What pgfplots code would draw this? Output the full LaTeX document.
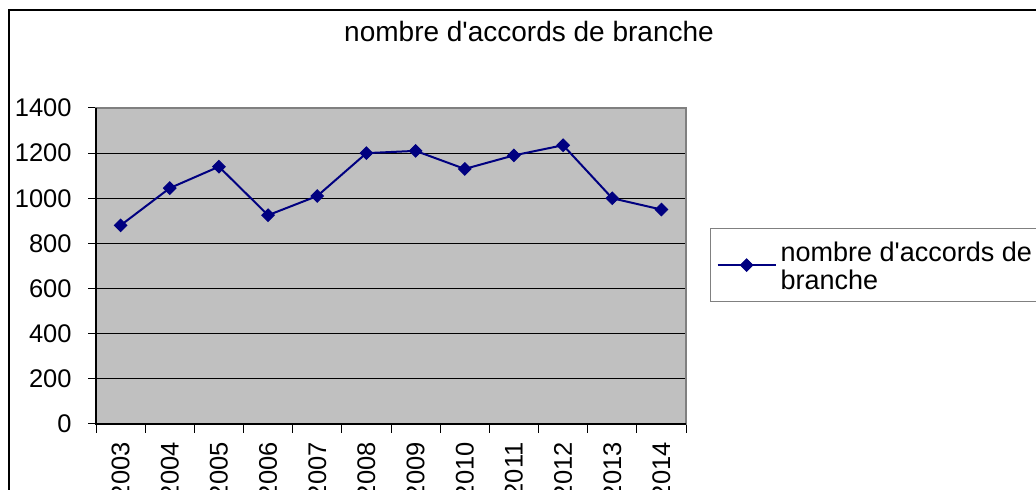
\documentclass[border=0pt]{standalone}
\usepackage{pgfplots}
\pgfplotsset{compat=1.18}
\usepackage{fontspec}
\setmainfont{Liberation Sans}
\definecolor{plotbg}{RGB}{192,192,192}
\definecolor{navyline}{RGB}{0,0,128}
\definecolor{frameGray}{RGB}{128,128,128}
\begin{document}
\begin{tikzpicture}
\useasboundingbox (0,0) rectangle (518pt,245pt);
\clip (0,0) rectangle (518pt,245pt);
\draw[line width=1pt] (4.5pt,-10pt) -- (4.5pt,240pt) -- (540pt,240pt);
\node[font=\fontsize{14}{16}\selectfont] at (264.5pt,229pt) {nombre d\textquotesingle accords de branche};
\begin{axis}[
  scale only axis, width=295pt, height=158pt,
  at={(48pt,33pt)}, anchor=south west,
  xmin=0, xmax=12, ymin=0, ymax=1400,
  ytick={0,200,...,1400},
  xtick={0.5,1.5,...,11.5},
  xticklabels={2003,2004,2005,2006,2007,2008,2009,2010,2011,2012,2013,2014},
  minor xtick={0,1,...,12},
  tick align=outside,
  xtick pos=bottom, ytick pos=left,
  major tick length=4pt, minor tick length=4.5pt,
  major x tick style={draw=none},
  tick style={black, line width=0.5pt},
  ymajorgrids,
  major grid style={black, line width=0.5pt},
  axis background/.style={fill=plotbg},
  axis line style={frameGray, line width=0.8pt},
  /pgf/number format/assume math mode=true,
  /pgf/number format/1000 sep={},
  ticklabel style={font=\fontsize{12.75}{14}\selectfont},
  yticklabel style={anchor=east, inner sep=0pt, xshift=-8pt},
  xticklabel style={rotate=90, anchor=east, inner sep=0pt, xshift=-5pt},
  legend style={at={(axis description cs:1.0407,0.6203)}, anchor=north west,
    draw=frameGray, fill=white, line width=0.6pt,
    font=\fontsize{13.5}{14}\selectfont, cells={align=left},
    inner xsep=3pt, inner ysep=2.5pt},
  legend cell align=left,
  legend image code/.code={\draw[mark repeat=2,mark phase=2,#1] plot coordinates {(0pt,0pt) (14.5pt,0pt) (29pt,0pt)};},
  after end axis/.code={\draw[black, line width=0.8pt] (rel axis cs:0,1) -- (rel axis cs:0,0) -- (rel axis cs:1,0);},
]
\addplot[navyline, line width=1pt, mark=square*, mark size=2.2pt, mark options={rotate=45, fill=navyline, line width=0.5pt}]
coordinates {
(0.5,880) (1.5,1045) (2.5,1140) (3.5,925) (4.5,1010) (5.5,1200)
(6.5,1210) (7.5,1130) (8.5,1190) (9.5,1235) (10.5,1000) (11.5,950)
};
\addlegendentry{\rule{0pt}{12pt}nombre d\textquotesingle accords de\\branche}
\end{axis}
\end{tikzpicture}
\end{document}
